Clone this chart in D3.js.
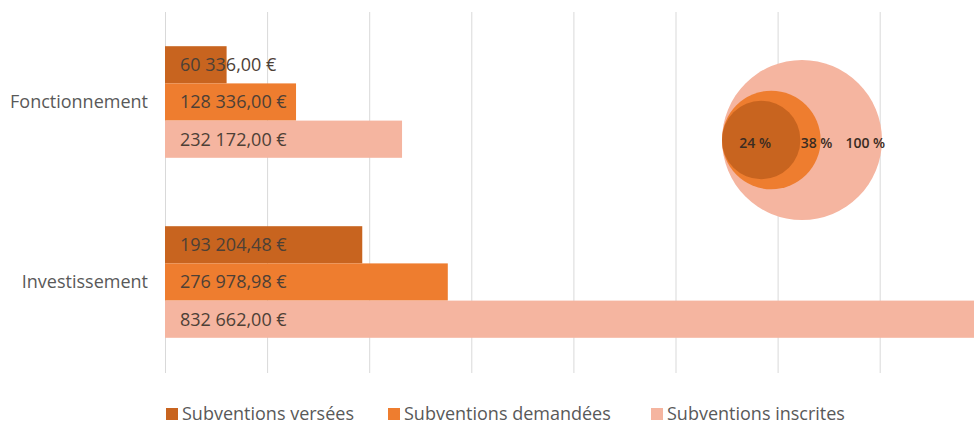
<!DOCTYPE html>
<html>
<head>
<meta charset="utf-8">
<script src="https://cdn.jsdelivr.net/npm/d3@7"></script>
<style>
  html, body { margin: 0; padding: 0; background: #fff; }
  svg { display: block; font-family: "Open Sans", sans-serif; }
</style>
</head>
<body>
<svg id="chart" width="974" height="424"></svg>
<script>
// data
const categories = ["Fonctionnement", "Investissement"];
const seriesNames = ["Subventions versées", "Subventions demandées", "Subventions inscrites"];
const versees   = [60336.00, 193204.48];
const demandees = [128336.00, 276978.98];
const inscrites = [232172.00, 832662.00];
const seriesValues = [versees, demandees, inscrites];
const bubblePct = [24, 38, 100];   // share of "inscrites" total
const colors = ["#c8641f", "#ee7d2f", "#f5b5a0"];

const svg = d3.select("#chart");
const textGrey = "#595959";

// scales
const x = d3.scaleLinear().domain([0, 900000]).range([165, 165 + 9 * 102.1]);
const y0 = d3.scaleBand().domain(categories).range([12, 372])
  .paddingInner(0.38).paddingOuter(0.19);
const y1 = d3.scaleBand().domain(seriesNames).range([0, y0.bandwidth()]);

// gridlines
svg.append("g")
  .selectAll("line")
  .data(x.ticks(9))
  .enter().append("line")
    .attr("x1", d => x(d) + 0.5).attr("x2", d => x(d) + 0.5)
    .attr("y1", 12).attr("y2", 373)
    .attr("stroke", "#d9d9d9").attr("stroke-width", 1);

// bars
const rows = [];
categories.forEach((c, i) => {
  seriesNames.forEach((s, j) => rows.push({ cat: c, series: s, value: seriesValues[j][i], j }));
});

const fmt = v => {
  const [int, dec] = v.toFixed(2).split(".");
  return int.replace(/\B(?=(\d{3})+(?!\d))/g, "\u00a0") + "," + dec + " €";
};

const barG = svg.append("g");
barG.selectAll("rect")
  .data(rows).enter().append("rect")
    .attr("x", x(0))
    .attr("y", d => y0(d.cat) + y1(d.series))
    .attr("width", d => x(d.value) - x(0))
    .attr("height", y1.bandwidth())
    .attr("fill", d => colors[d.j]);

barG.selectAll("text")
  .data(rows).enter().append("text")
    .attr("x", x(0) + 15)
    .attr("y", d => y0(d.cat) + y1(d.series) + y1.bandwidth() / 2)
    .attr("dy", "0.36em")
    .attr("font-size", 18)
    .attr("fill", "#4d4036")
    .text(d => fmt(d.value));

// category labels
svg.append("g")
  .selectAll("text")
  .data(categories).enter().append("text")
    .attr("x", 148)
    .attr("y", d => y0(d) + y0.bandwidth() / 2)
    .attr("dy", "0.36em")
    .attr("text-anchor", "end")
    .attr("font-size", 18)
    .attr("fill", textGrey)
    .text(d => d);

// nested bubbles (left aligned)
const r = d3.scaleSqrt().domain([0, 100]).range([0, 80]);
const bx = 722, by = 140;
const bubbles = bubblePct.map((p, i) => ({ p, i, r: r(p) }));
const bubG = svg.append("g");
bubG.selectAll("circle")
  .data(bubbles.slice().reverse()).enter().append("circle")
    .attr("cx", d => bx + d.r)
    .attr("cy", by)
    .attr("r", d => d.r)
    .attr("fill", d => colors[d.i]);

const labelDx = [-6, 6, 14];
bubG.selectAll("text")
  .data(bubbles).enter().append("text")
    .attr("x", d => {
      const prevEdge = d.i === 0 ? bx : bx + 2 * bubbles[d.i - 1].r;
      return (prevEdge + bx + 2 * d.r) / 2 + labelDx[d.i];
    })
    .attr("y", by + 3)
    .attr("dy", "0.36em")
    .attr("text-anchor", "middle")
    .attr("font-size", 14)
    .attr("font-weight", 600)
    .attr("fill", "#3a2c22")
    .text(d => d.p + " %");

// legend
const legendX = [166, 388, 651];
const legend = svg.append("g");
seriesNames.forEach((s, i) => {
  const g = legend.append("g").attr("transform", `translate(${legendX[i]},408)`);
  g.append("rect").attr("width", 12).attr("height", 12).attr("fill", colors[i]);
  g.append("text")
    .attr("x", 16).attr("y", 6).attr("dy", "0.36em")
    .attr("font-size", 18)
    .attr("fill", textGrey)
    .text(s);
});
</script>
</body>
</html>
